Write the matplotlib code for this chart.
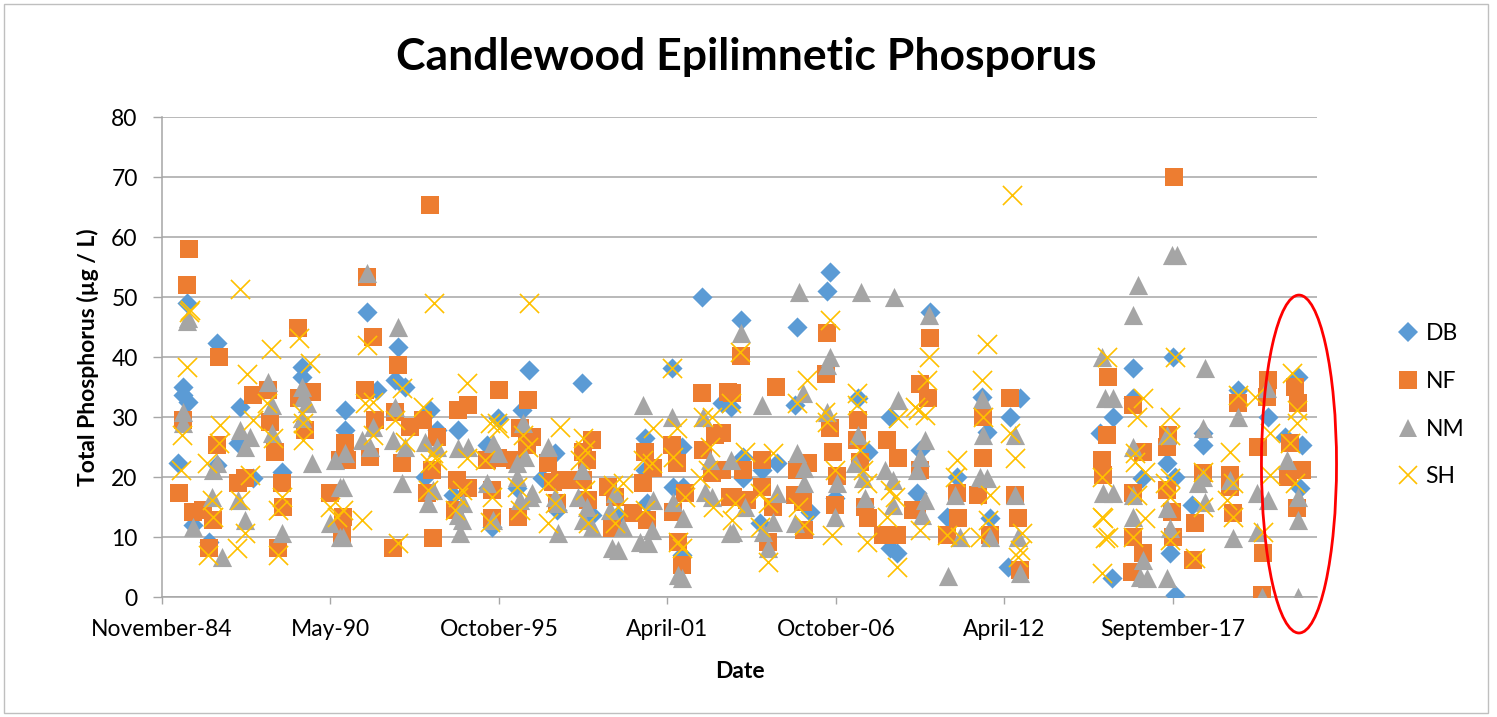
import matplotlib
matplotlib.use("Agg")
import matplotlib.pyplot as plt
import matplotlib.dates as mdates
from matplotlib.lines import Line2D
from matplotlib.patches import Ellipse, Rectangle
from datetime import datetime, timedelta

plt.rcParams['font.family'] = ['Lato', 'DejaVu Sans']

# sample dates (decimal years) and total phosphorus (ug/L) per station
db_year = [1985.40, 1985.56, 1985.56, 1985.69, 1985.72, 1985.88, 1986.40, 1986.66, 1986.66, 1987.35,
           1987.41, 1987.83, 1988.77, 1989.42, 1989.42, 1990.82, 1990.82, 1991.54, 1991.86, 1992.45,
           1992.55, 1992.77, 1993.42, 1993.59, 1993.81, 1994.33, 1994.49, 1995.44, 1995.47, 1995.60,
           1995.79, 1996.41, 1996.58, 1996.80, 1997.22, 1997.65, 1997.71, 1998.53, 1998.85, 1999.69,
           2000.57, 2000.57, 2000.64, 2001.45, 2001.48, 2001.78, 2001.78, 2001.81, 2002.43, 2003.07,
           2003.37, 2003.69, 2003.76, 2003.76, 2004.31, 2004.38, 2004.86, 2005.45, 2005.51, 2005.94,
           2006.49, 2006.59, 2006.75, 2007.49, 2007.82, 2008.54, 2008.54, 2008.76, 2009.41, 2009.51,
           2009.83, 2010.39, 2010.71, 2011.52, 2011.69, 2011.79, 2012.37, 2012.44, 2012.76, 2015.36,
           2015.75, 2015.78, 2016.43, 2016.43, 2016.72, 2017.54, 2017.64, 2017.73, 2017.80, 2017.80,
           2018.35, 2018.71, 2018.71, 2019.85, 2020.82, 2021.37, 2021.79, 2021.86, 2021.92]
db_tp = [22.3, 35, 33.7, 49, 32.5, 12, 9.2, 22, 42.3, 25.7,
         31.7, 19.8, 20.8, 38.3, 36.7, 31.2, 27.8, 47.5, 34.5, 36.2,
         41.7, 35, 20, 31.2, 27.8, 17, 27.8, 25.3, 18.2, 11.7,
         29.8, 18.2, 31.2, 37.8, 19.8, 24, 14.5, 35.7, 13.7, 13.7,
         26.5, 21.2, 15.7, 38.2, 18.3, 25, 7, 18.3, 50, 32.3,
         31.7, 46.2, 23.3, 19.8, 12.3, 21.2, 22.3, 32, 45, 14.2,
         51, 54.2, 16.5, 33.2, 24.2, 30, 8.2, 7.3, 17.3, 24.5,
         47.5, 13.3, 20, 33.3, 27.5, 13.2, 5, 30, 33.2, 27.3,
         3.2, 30, 38.2, 33.2, 19.8, 22.3, 7.3, 40, 20, 0.3,
         15.3, 27.3, 25.3, 34.5, 30, 26.7, 36.7, 18.2, 25.3]

nf_year = [1985.43, 1985.56, 1985.69, 1985.75, 1985.88, 1986.21, 1986.40, 1986.53, 1986.66, 1986.73,
           1987.35, 1987.57, 1987.83, 1988.32, 1988.39, 1988.55, 1988.64, 1988.77, 1988.81, 1989.29,
           1989.33, 1989.52, 1989.75, 1990.33, 1990.66, 1990.73, 1990.76, 1990.82, 1990.89, 1991.47,
           1991.54, 1991.64, 1991.73, 1991.80, 1992.38, 1992.45, 1992.55, 1992.68, 1992.94, 1993.36,
           1993.49, 1993.59, 1993.65, 1993.68, 1993.81, 1994.40, 1994.46, 1994.49, 1994.82, 1994.82,
           1995.44, 1995.60, 1995.60, 1995.79, 1995.83, 1996.35, 1996.45, 1996.51, 1996.74, 1996.77,
           1996.90, 1997.42, 1997.58, 1997.71, 1997.81, 1998.04, 1998.56, 1998.56, 1998.69, 1998.72,
           1998.85, 1999.37, 1999.50, 1999.60, 2000.18, 2000.51, 2000.57, 2000.64, 2000.83, 2001.45,
           2001.48, 2001.61, 2001.65, 2001.78, 2001.87, 2002.43, 2002.46, 2002.75, 2002.85, 2003.07,
           2003.07, 2003.27, 2003.33, 2003.40, 2003.43, 2003.69, 2003.76, 2003.89, 2004.38, 2004.38,
           2004.57, 2004.73, 2004.83, 2005.45, 2005.51, 2005.71, 2005.74, 2005.87, 2006.46, 2006.49,
           2006.59, 2006.68, 2006.75, 2006.81, 2007.46, 2007.49, 2007.56, 2007.72, 2007.82, 2008.31,
           2008.44, 2008.76, 2008.80, 2009.28, 2009.41, 2009.51, 2009.51, 2009.77, 2009.83, 2010.39,
           2010.71, 2010.74, 2011.39, 2011.56, 2011.56, 2011.79, 2012.44, 2012.60, 2012.70, 2012.76,
           2015.43, 2015.46, 2015.59, 2015.62, 2016.40, 2016.43, 2016.43, 2016.43, 2016.76, 2016.76,
           2017.54, 2017.54, 2017.57, 2017.70, 2017.73, 2017.77, 2018.38, 2018.45, 2018.71, 2019.58,
           2019.58, 2019.68, 2019.85, 2020.50, 2020.63, 2020.66, 2020.79, 2020.82, 2021.47, 2021.53,
           2021.69, 2021.76, 2021.79, 2021.92]
nf_tp = [17.3, 29.5, 52, 58, 14.2, 14.5, 8.2, 12.8, 25.3, 40,
         19, 19.8, 33.7, 34.5, 29.2, 24.2, 8.2, 19, 15, 44.8,
         33.2, 27.8, 34.2, 17.3, 22.8, 10.3, 13.3, 25.7, 22.8, 34.5,
         53.3, 23.3, 43.3, 29.5, 8.2, 30.8, 38.7, 22.3, 28.3, 29.5,
         17.3, 65.3, 21.2, 9.8, 26.7, 14.5, 19.5, 31.2, 32, 18.2,
         22.8, 17.8, 13.2, 23.2, 34.5, 22.8, 13.3, 28.2, 25.3, 32.8,
         26.7, 22.3, 19.2, 15.7, 19.5, 19.5, 24.2, 19.5, 22.8, 16.2,
         26.2, 18.3, 11.5, 16.7, 14, 19, 24.2, 12.8, 21.5, 25.3,
         14.2, 22.3, 9.2, 5.3, 17.3, 34, 24.5, 20.7, 27, 27.3,
         21.2, 34.2, 16.7, 34, 16.7, 40.2, 21.2, 16.2, 22.8, 18.3,
         9.2, 15, 35, 17, 21.2, 15.8, 11.2, 22.3, 37.2, 44,
         28.2, 24.2, 15.3, 20.2, 26.2, 29.5, 22.5, 15, 13.2, 10.3,
         26.2, 10.3, 23.2, 14.5, 14.5, 35.5, 21.2, 33.2, 43.2, 10.3,
         17.3, 13.2, 17, 30, 23.2, 10.3, 33.2, 17, 13.2, 4.5,
         22.8, 20.3, 27, 36.7, 4.2, 32, 17.3, 10, 24.2, 7.3,
         25, 17.8, 27, 14.2, 10, 70, 6.2, 12.3, 20.7, 20.3,
         18.3, 14, 32.3, 25, 0.3, 7.3, 33.3, 36.2, 20, 25.7,
         35, 14.8, 32.3, 21.2]

nm_year = [1985.56, 1985.56, 1985.69, 1985.72, 1985.88, 1986.50, 1986.53, 1986.66, 1986.83, 1987.35,
           1987.41, 1987.57, 1987.57, 1987.74, 1988.32, 1988.45, 1988.45, 1988.77, 1989.42, 1989.42,
           1989.46, 1989.59, 1989.75, 1990.33, 1990.50, 1990.66, 1990.66, 1990.76, 1990.76, 1990.82,
           1991.38, 1991.54, 1991.64, 1991.73, 1992.38, 1992.45, 1992.55, 1992.68, 1992.77, 1993.42,
           1993.52, 1993.68, 1993.81, 1994.49, 1994.49, 1994.56, 1994.62, 1994.66, 1994.82, 1995.44,
           1995.63, 1995.63, 1995.79, 1996.41, 1996.41, 1996.51, 1996.61, 1996.67, 1996.83, 1996.90,
           1997.42, 1997.65, 1997.75, 1997.75, 1998.40, 1998.53, 1998.56, 1998.69, 1998.85, 1999.44,
           1999.50, 1999.60, 1999.69, 1999.86, 2000.41, 2000.51, 2000.67, 2000.80, 2000.83, 2001.45,
           2001.48, 2001.65, 2001.78, 2001.81, 2002.46, 2002.52, 2002.69, 2002.75, 2003.33, 2003.37,
           2003.43, 2003.69, 2003.82, 2004.38, 2004.41, 2004.57, 2004.73, 2004.86, 2005.45, 2005.51,
           2005.58, 2005.71, 2005.74, 2005.74, 2006.49, 2006.49, 2006.59, 2006.75, 2006.81, 2007.40,
           2007.49, 2007.59, 2007.66, 2007.72, 2008.37, 2008.63, 2008.63, 2008.67, 2008.80, 2009.41,
           2009.51, 2009.58, 2009.67, 2009.67, 2009.80, 2010.42, 2010.65, 2010.81, 2011.46, 2011.52,
           2011.56, 2011.69, 2011.79, 2012.60, 2012.60, 2012.70, 2012.76, 2015.43, 2015.46, 2015.52,
           2015.78, 2015.78, 2016.43, 2016.43, 2016.43, 2016.43, 2016.60, 2016.66, 2016.76, 2016.89,
           2017.54, 2017.54, 2017.54, 2017.64, 2017.70, 2017.86, 2018.55, 2018.71, 2018.71, 2018.77,
           2018.77, 2019.58, 2019.68, 2019.85, 2020.46, 2020.46, 2020.63, 2020.79, 2020.82, 2021.44,
           2021.79, 2021.79, 2021.79]
nm_tp = [30.8, 29, 46, 46.5, 11.7, 16.7, 21.2, 22.3, 6.7, 16.2,
         27.8, 25, 12.8, 26.7, 35.8, 32, 27.3, 10.7, 35, 29.8,
         33.3, 32.3, 22.3, 12.3, 22.8, 18.3, 10, 18.3, 10, 24,
         26.2, 54, 25, 28.3, 26.2, 31.7, 45, 19, 25, 25.8,
         15.7, 17.8, 25, 24.8, 13.7, 10.7, 12.8, 15.7, 25, 19,
         25.7, 12.8, 24, 22.3, 20, 16.2, 29, 23.3, 16.7, 17.3,
         25, 16.7, 15.7, 10.7, 16.7, 21.2, 12.8, 15, 11.7, 14.5,
         8.2, 17.3, 7.8, 11.7, 9.2, 32, 9, 11.2, 16.2, 30,
         15.8, 3.7, 3.2, 13.2, 30, 17.5, 22.8, 16.7, 10.7, 22.8,
         10.8, 44, 15, 32, 10.8, 8.2, 12.5, 17.3, 12.3, 24,
         50.8, 34, 21.5, 19, 38.7, 30.8, 40, 13.3, 19, 22.3,
         27, 50.8, 19.8, 16.5, 21.2, 19.5, 15.3, 50, 32.8, 21.2,
         23.3, 13.7, 26.2, 16.2, 47, 3.5, 17, 10, 20, 33,
         27, 19.8, 10, 27, 17, 10, 4, 40, 17.3, 33.2,
         33.2, 17.3, 47, 25, 17, 13.3, 52, 3.3, 6.2, 3.2,
         27, 14.8, 3.2, 11.5, 57, 57, 19, 28.2, 20, 38.2,
         15.8, 19.5, 9.8, 30, 17.3, 10.8, 0, 34.8, 16.2, 22.8,
         16.7, 12.8, 0]

sh_year = [1985.49, 1985.53, 1985.69, 1985.75, 1985.78, 1986.34, 1986.37, 1986.50, 1986.53, 1986.73,
           1986.76, 1987.31, 1987.41, 1987.41, 1987.57, 1987.64, 1987.74, 1987.83, 1988.29, 1988.42,
           1988.48, 1988.64, 1988.64, 1988.77, 1989.33, 1989.42, 1989.46, 1989.46, 1989.68, 1990.33,
           1990.56, 1990.76, 1991.38, 1991.47, 1991.54, 1991.73, 1991.73, 1992.45, 1992.55, 1992.68,
           1992.77, 1993.36, 1993.52, 1993.59, 1993.68, 1993.72, 1993.81, 1994.40, 1994.49, 1994.62,
           1994.79, 1994.79, 1995.37, 1995.53, 1995.53, 1995.60, 1995.76, 1995.83, 1996.41, 1996.51,
           1996.61, 1996.77, 1996.80, 1997.42, 1997.42, 1997.65, 1997.81, 1998.46, 1998.56, 1998.62,
           1998.62, 1998.72, 1999.53, 1999.60, 1999.69, 1999.86, 2000.51, 2000.57, 2000.80, 2000.83,
           2001.45, 2001.48, 2001.61, 2001.65, 2001.78, 2001.87, 2002.36, 2002.46, 2002.62, 2002.69,
           2002.75, 2002.78, 2003.37, 2003.40, 2003.50, 2003.66, 2003.82, 2004.31, 2004.31, 2004.57,
           2004.57, 2004.73, 2005.51, 2005.55, 2005.74, 2005.84, 2006.42, 2006.49, 2006.59, 2006.65,
           2006.75, 2007.46, 2007.46, 2007.56, 2007.66, 2007.79, 2007.79, 2008.44, 2008.54, 2008.70,
           2008.76, 2008.80, 2009.35, 2009.45, 2009.51, 2009.67, 2009.74, 2009.80, 2010.39, 2010.65,
           2010.71, 2010.81, 2011.46, 2011.52, 2011.56, 2011.69, 2011.72, 2011.79, 2012.44, 2012.50,
           2012.60, 2012.70, 2012.76, 2012.83, 2015.43, 2015.43, 2015.43, 2015.46, 2015.52, 2015.59,
           2015.62, 2016.43, 2016.50, 2016.50, 2016.56, 2016.56, 2016.76, 2016.82, 2016.82, 2017.47,
           2017.64, 2017.64, 2017.64, 2017.64, 2017.64, 2017.80, 2018.45, 2018.71, 2018.71, 2019.49,
           2019.58, 2019.68, 2019.68, 2019.85, 2020.40, 2020.66, 2020.88, 2020.88, 2021.53, 2021.60,
           2021.69, 2021.76, 2021.76]
sh_tp = [21.2, 27, 38.3, 47.5, 47.8, 22.3, 7, 16.2, 13.3, 25.7,
         28.7, 8.2, 51.3, 16.2, 10.7, 37.2, 20.3, 29.5, 32.3, 41.3,
         26.5, 14.5, 7, 16.7, 43.2, 30.7, 29, 26.2, 39, 15,
         13.3, 14.5, 12.8, 32.3, 42, 32.5, 27, 29.5, 9, 34.8,
         25.8, 31.7, 17.8, 22.3, 24, 49, 22.8, 14.5, 16.7, 17.8,
         35.7, 23.2, 22.8, 29, 12.5, 16.7, 29, 28.2, 18.3, 14.5,
         27, 25, 49, 19, 12.3, 15.7, 28.3, 22.8, 26.5, 24.5,
         17.8, 12.3, 18.7, 12.3, 15, 19, 22.8, 14.5, 22.3, 28.2,
         38.2, 23.3, 28.2, 9.2, 8.2, 16.7, 19.8, 30, 21.2, 25,
         30, 15, 32.3, 12.8, 15.7, 40.8, 24.2, 17.3, 11.7, 15.7,
         5.8, 24, 32.3, 15, 12, 36.2, 30.8, 29.2, 46.2, 10.3,
         21.2, 34, 32, 24.5, 21.2, 19, 9.2, 13.3, 17.8, 16.7,
         5, 29.8, 31.7, 31.2, 11.2, 30.3, 36.2, 40, 10.3, 20,
         22.8, 10, 10, 36.2, 30, 42.2, 12.8, 17, 27.3, 67,
         23.2, 6.7, 7.8, 10.7, 20, 13.3, 4, 13.2, 9.8, 40,
         10, 10, 24, 22.5, 30, 17, 33.2, 20.8, 13.2, 19,
         30, 27, 19.8, 16.7, 9.5, 40, 6.5, 20.8, 15, 16.2,
         24.2, 19, 13.3, 33.7, 33.3, 10.8, 20.3, 27.3, 25.7, 37.3,
         19, 31.2, 29]

labels = ['DB', 'NF', 'NM', 'SH']
colors = ['#5B9BD5', '#ED7D31', '#A5A5A5', '#FFC000']


def to_date(y):
    yr = int(y)
    start = datetime(yr, 1, 1)
    length = (datetime(yr + 1, 1, 1) - start).days
    return start + timedelta(days=(y - yr) * length)


W, H = 1497, 717
fig = plt.figure(figsize=(W / 100, H / 100), dpi=100)
ax = fig.add_axes([162 / W, 1 - 597 / H, (1317 - 162) / W, 480 / H])

ax.scatter([to_date(v) for v in db_year], db_tp, marker='D', s=105, color=colors[0], linewidths=0, zorder=3)
ax.scatter([to_date(v) for v in nf_year], nf_tp, marker='s', s=185, color=colors[1], linewidths=0, zorder=4)
ax.scatter([to_date(v) for v in nm_year], nm_tp, marker='^', s=190, color=colors[2], linewidths=0, zorder=5)
ax.scatter([to_date(v) for v in sh_year], sh_tp, marker='x', s=190, color=colors[3], linewidths=1.2, zorder=6)

# date axis: Excel style major unit of 2000 days
start = datetime(1984, 11, 15)
ax.set_xlim(start, start + timedelta(days=13710))
ticks = [start + timedelta(days=2000 * k) for k in range(7)]
ax.set_xticks(ticks)
ax.xaxis.set_major_formatter(mdates.DateFormatter('%B-%y'))
ax.set_ylim(0, 80)
ax.set_yticks(range(0, 81, 10))

grid_c = '#A6A6A6'
ax.yaxis.grid(True, color=grid_c, lw=1.1)
ax.set_axisbelow(True)
for side in ['top', 'right']:
    ax.spines[side].set_visible(False)
for side in ['left', 'bottom']:
    ax.spines[side].set_color(grid_c)
    ax.spines[side].set_linewidth(1.1)
ax.tick_params(axis='y', length=6.5, width=1, color=grid_c, pad=11, labelsize=16.5)
ax.tick_params(axis='x', length=5, width=1, color=grid_c, pad=11, labelsize=16.5)

fig.text(746 / W, 1 - 57 / H, 'Candlewood Epilimnetic Phosporus', ha='center', va='center',
         fontsize=32, fontweight='bold')
fig.text(88 / W, 1 - 357 / H, 'Total Phosphorus (µg / L)', ha='center', va='center',
         rotation=90, fontsize=16.5, fontweight='bold')
fig.text(740 / W, 1 - 671 / H, 'Date', ha='center', va='center', fontsize=16.5, fontweight='bold')

handles = [
    Line2D([], [], ls='none', marker='D', ms=10, color=colors[0], mew=0),
    Line2D([], [], ls='none', marker='s', ms=13.5, color=colors[1], mew=0),
    Line2D([], [], ls='none', marker='^', ms=13.5, color=colors[2], mew=0),
    Line2D([], [], ls='none', marker='x', ms=13.5, color=colors[3], mew=1.2),
]
fig.legend(handles, labels, loc='upper left', bbox_to_anchor=(1397 / W, 1 - 323 / H),
           frameon=False, fontsize=16.5, handlelength=1.0, handletextpad=0.25,
           labelspacing=1.17, borderpad=0, borderaxespad=0)

# red ellipse highlighting the latest samples
ax.add_patch(Ellipse((0.9844, 0.277), 0.065, 0.704, transform=ax.transAxes, fill=False,
                     edgecolor='#FF0000', lw=2, clip_on=False, zorder=10))

# chart border
fig.patches.append(Rectangle((4 / W, 4 / H), (1488 - 4) / W, (713 - 4) / H, transform=fig.transFigure,
                             fill=False, edgecolor='#BFBFBF', lw=1))

fig.savefig('out.png', dpi=100)
